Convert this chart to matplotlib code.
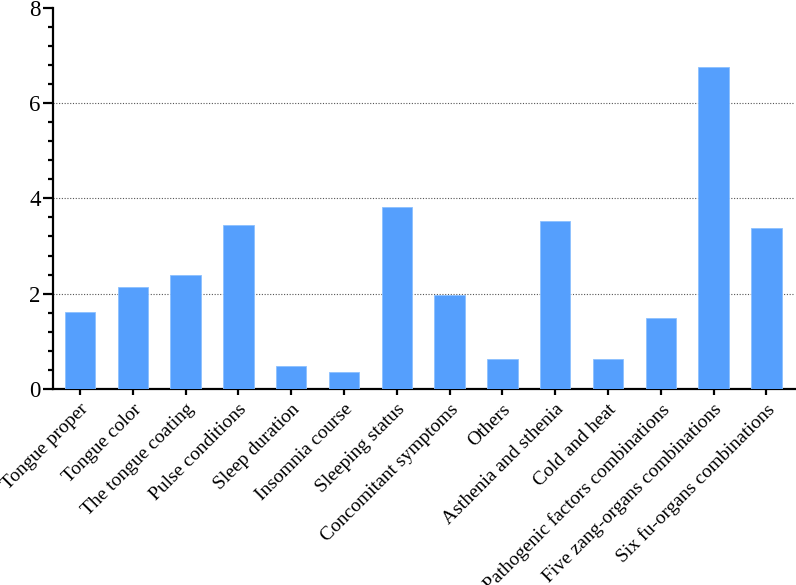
import matplotlib
matplotlib.use("Agg")
import matplotlib.pyplot as plt
from matplotlib.ticker import MultipleLocator

plt.rcParams['font.family'] = ['Liberation Serif', 'DejaVu Serif']

categories = ["Tongue proper", "Tongue color", "The tongue coating", "Pulse conditions",
              "Sleep duration", "Insomnia course", "Sleeping status", "Concomitant symptoms",
              "Others", "Asthenia and sthenia", "Cold and heat",
              "Pathogenic factors combinations", "Five zang-organs combinations",
              "Six fu-organs combinations"]
values = [1.61, 2.15, 2.40, 3.45, 0.48, 0.36, 3.81, 1.98, 0.64, 3.52, 0.63, 1.50, 6.76, 3.38]
yticks = [0, 2, 4, 6, 8]

fig = plt.figure(figsize=(7.96, 5.85), dpi=100)
ax = fig.add_axes([0.0666, 0.335, 0.932, 0.652])

x = list(range(len(categories)))
ax.bar(x, values, width=0.575, color='#559FFD', edgecolor='#8CC0FF', linewidth=0.6, zorder=3)

ax.set_xlim(-0.51, 13.54)
ax.set_ylim(0, 8)
ax.set_yticks(yticks)
ax.set_yticklabels([str(t) for t in yticks], fontsize=16.5)
ax.yaxis.set_minor_locator(MultipleLocator(0.4))
for g in [2, 4, 6]:
    ax.axhline(g, color='#555555', linestyle=(0, (1, 1.5)), linewidth=0.8, zorder=1)

ax.set_xticks(x)
ax.set_xticklabels(categories, rotation=45, ha='right', rotation_mode='anchor', fontsize=14)

for s in ['top', 'right']:
    ax.spines[s].set_visible(False)
for s in ['left', 'bottom']:
    ax.spines[s].set_linewidth(1.6)
ax.tick_params(axis='y', which='major', length=7, width=1.6, pad=2)
ax.tick_params(axis='y', which='minor', length=3.5, width=1.6)
ax.tick_params(axis='x', which='major', length=4.5, width=1.6, pad=4)

fig.savefig('out.png', dpi=100)
